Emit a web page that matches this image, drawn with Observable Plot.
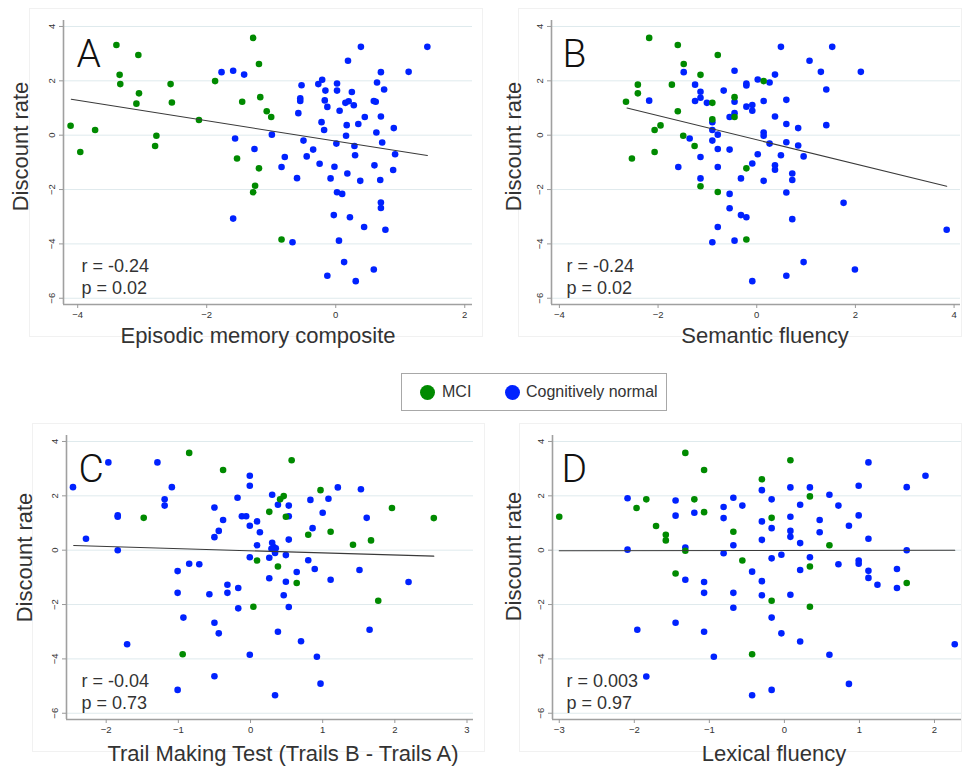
<!DOCTYPE html>
<html>
<head>
<meta charset="utf-8">
<script src="https://cdn.jsdelivr.net/npm/d3@7"></script>
<script src="https://cdn.jsdelivr.net/npm/@observablehq/plot@0.6"></script>
<style>
  html, body { margin: 0; padding: 0; background: #fff; }
  #root { position: relative; width: 962px; height: 766px; overflow: hidden; font-family: "Liberation Sans", Arial, sans-serif; color: #333; }
  .pbox { position: absolute; border: 1px solid #f1f1f1; box-sizing: border-box; }
  .panel { position: absolute; }
  #legend { position: absolute; left: 401px; top: 373px; width: 266px; height: 38px; border: 1px solid #a8a8a8; box-sizing: border-box; }
  #legend span { position: absolute; top: 9px; font-size: 16px; color: #333; white-space: nowrap; }
  #legend i { position: absolute; width: 15px; height: 15px; border-radius: 50%; top: 11px; }
</style>
</head>
<body>
<div id="root"></div>
<script>
// ---------- data ----------
const groups = ["MCI", "Cognitively normal"];
const groupColors = ["#008a00", "#0022ff"];
const yTicks = [-6, -4, -2, 0, 2, 4];
const yLabel = "Discount rate";

const panelLetters = ["A", "B", "C", "D"];
const xLabels = ["Episodic memory composite", "Semantic fluency", "Trail Making Test (Trails B - Trails A)", "Lexical fluency"];
const statsText = [["r = -0.24", "p = 0.02"], ["r = -0.24", "p = 0.02"], ["r = -0.04", "p = 0.73"], ["r = 0.003", "p = 0.97"]];

const xTicksA = [-4, -2, 0, 2];
const xTicksB = [-4, -2, 0, 2, 4];
const xTicksC = [-2, -1, 0, 1, 2, 3];
const xTicksD = [-3, -2, -1, 0, 1, 2];

const A_MCI = [[-3.40,3.32],[-3.06,2.95],[-3.35,2.22],[-3.34,1.88],[-3.05,1.54],[-3.09,1.16],[-2.56,1.88],[-2.54,1.20],[-2.12,0.56],[-1.87,1.99],[-4.11,0.35],[-3.96,-0.62],[-3.73,0.19],[-2.78,-0.02],[-2.80,-0.40],[-1.53,-0.86],[-1.28,3.58],[-1.19,2.62],[-1.45,1.23],[-1.17,1.40],[-1.07,0.88],[-1.00,0.67],[-1.19,-1.22],[-1.25,-1.86],[-1.28,-2.10],[-0.84,-3.84]];
const A_CN = [[-1.77,2.32],[-1.59,2.37],[-1.56,-0.12],[-1.59,-3.07],[-1.42,2.23],[-1.26,-0.51],[-0.99,0.02],[-0.79,-0.80],[-0.84,-1.17],[-0.67,-3.94],[-0.53,1.84],[-0.55,1.36],[-0.55,1.26],[-0.58,0.81],[-0.50,-0.20],[-0.60,-1.58],[-0.45,-0.78],[-0.35,-0.53],[-0.25,-1.05],[-0.27,1.88],[-0.21,2.04],[-0.16,1.64],[-0.17,1.28],[-0.13,1.04],[-0.22,0.48],[-0.18,0.19],[-0.08,-1.59],[-0.13,-5.17],[0.02,1.90],[0.02,1.64],[0.06,0.90],[0.01,-0.31],[-0.02,-1.16],[0.02,-2.10],[0.10,-2.16],[-0.03,-2.94],[0.05,-3.88],[0.13,-4.67],[0.31,-5.37],[0.19,2.74],[0.39,3.25],[0.25,1.59],[0.20,1.25],[0.15,1.19],[0.28,1.10],[0.17,0.37],[0.16,-0.02],[0.29,-0.40],[0.30,-0.74],[0.18,-1.41],[0.22,-3.02],[0.45,0.67],[0.35,0.41],[0.38,-1.68],[0.44,-3.38],[0.59,-4.94],[0.70,2.32],[0.64,1.94],[0.75,1.68],[0.59,1.26],[0.62,1.23],[0.70,0.69],[0.63,0.10],[0.72,-0.27],[0.60,-1.11],[0.69,-1.65],[0.70,-2.48],[0.70,-2.68],[0.77,-3.48],[0.90,0.26],[0.92,-0.70],[0.89,-1.28],[1.13,2.33],[1.42,3.25]];

const B_MCI = [[-2.18,3.58],[-1.60,3.32],[-1.48,2.62],[-1.14,2.22],[-2.41,1.86],[-2.41,1.54],[-1.72,1.86],[-2.65,1.23],[-1.60,0.88],[-0.90,1.19],[-1.95,0.36],[-2.07,0.19],[-1.49,-0.02],[-1.26,-0.40],[-2.07,-0.62],[-2.53,-0.86],[-1.14,-1.88],[-0.79,-2.09],[-0.79,2.95],[-0.90,0.58],[0.14,1.99],[-0.45,1.40],[-0.45,0.67],[-0.21,-1.22],[-0.21,-3.84]];
const B_CN = [[-1.48,2.32],[-1.25,1.86],[-1.14,1.60],[-1.14,1.38],[-1.25,1.26],[-1.01,1.19],[-2.18,1.27],[-0.90,0.48],[-0.90,0.19],[-0.79,0.02],[-1.36,-0.12],[-0.90,-0.20],[-0.79,-0.51],[-1.14,-0.80],[-1.59,-1.17],[-0.79,-1.17],[-1.14,-1.59],[-0.79,-3.38],[-0.90,-3.94],[0.49,3.25],[1.53,3.25],[1.07,2.74],[-0.45,2.37],[0.37,2.23],[1.30,2.33],[2.11,2.33],[0.02,2.05],[0.26,1.94],[-0.21,1.90],[-0.21,1.83],[-0.67,1.64],[1.41,1.68],[-0.45,1.23],[0.14,1.26],[0.60,1.30],[-0.09,1.11],[-0.21,1.05],[-0.09,0.90],[-0.45,0.81],[-0.55,0.67],[0.37,0.69],[0.60,0.41],[0.84,0.26],[1.41,0.37],[0.14,0.10],[0.14,-0.02],[0.26,-0.31],[0.60,-0.26],[0.84,-0.38],[-0.55,-0.53],[0.02,-0.70],[0.49,-0.74],[0.95,-0.78],[-0.09,-1.04],[0.37,-1.11],[0.37,-1.27],[-0.32,-1.59],[0.14,-1.68],[0.72,-1.41],[0.72,-1.65],[-0.55,-2.16],[0.60,-2.11],[1.76,-2.49],[-0.55,-2.69],[-0.32,-2.94],[-0.21,-3.02],[0.72,-3.09],[3.85,-3.48],[-0.45,-3.88],[0.95,-4.67],[1.99,-4.94],[0.60,-5.17],[-0.09,-5.37]];

const C_MCI = [[-0.85,3.58],[-0.38,2.95],[-1.48,1.19],[-0.94,-3.83],[0.57,3.31],[0.46,1.99],[0.41,1.87],[0.26,1.41],[0.49,1.23],[0.97,2.21],[1.96,1.55],[2.54,1.18],[0.80,0.57],[1.11,0.68],[1.42,0.20],[1.67,0.36],[0.09,-0.38],[0.38,-0.60],[0.64,-1.21],[0.04,-2.08],[1.77,-1.86]];
const C_CN = [[-2.46,2.32],[-1.97,3.23],[-1.29,3.23],[-1.09,2.32],[-1.19,1.87],[-1.19,1.64],[-1.84,1.28],[-1.84,1.23],[-2.28,0.42],[-1.84,0.00],[-1.71,-3.46],[-0.50,1.57],[-0.38,1.11],[-0.44,0.71],[-0.50,0.48],[-0.18,1.93],[-0.12,1.25],[-0.06,1.25],[-0.85,-0.50],[-0.71,-0.52],[-1.01,-0.77],[-1.01,-1.57],[-0.57,-1.62],[-0.32,-1.27],[-0.32,-1.57],[-0.17,-1.39],[-0.17,-2.14],[-0.93,-2.48],[-0.50,-2.67],[-0.44,-3.06],[-0.50,-4.64],[-1.01,-5.14],[-0.01,2.74],[-0.01,2.37],[-0.01,0.90],[0.09,1.06],[0.13,0.66],[0.09,0.18],[-0.01,-0.26],[0.30,2.04],[0.38,1.67],[0.53,1.64],[0.53,1.25],[0.53,0.39],[0.30,0.27],[0.32,0.12],[0.35,0.07],[0.29,0.05],[0.34,-0.10],[0.26,-0.28],[0.49,-0.18],[0.26,-1.03],[0.49,-1.16],[0.64,-0.80],[0.46,-1.66],[0.53,-2.09],[0.38,-3.00],[0.70,-3.35],[-0.01,-3.85],[0.34,-5.34],[0.92,-3.92],[0.97,-4.91],[0.83,1.85],[0.86,0.81],[1.00,1.38],[1.08,1.89],[1.21,2.31],[0.80,-0.37],[0.89,-0.69],[1.11,-1.09],[1.53,2.24],[1.61,1.19],[1.51,-0.73],[1.65,-2.93],[2.19,-1.17]];

const D_MCI = [[-3.00,1.23],[-1.32,3.58],[-1.07,2.95],[-1.97,1.55],[-1.84,1.87],[-1.20,1.87],[-1.07,1.40],[-1.71,0.89],[-1.58,0.57],[-1.58,0.36],[-1.32,-0.02],[-1.45,-0.86],[0.08,3.31],[-0.30,2.61],[0.34,1.98],[-0.17,1.19],[-0.68,0.68],[0.60,0.18],[-0.56,-0.38],[0.34,-0.60],[1.63,-1.21],[-0.17,-1.86],[0.34,-2.08],[-0.43,-3.83]];
const D_CN = [[-2.09,1.91],[-1.45,1.83],[-1.45,1.27],[-1.20,1.38],[-2.09,0.02],[-1.32,0.10],[-1.32,-1.09],[-1.07,-1.17],[-1.07,-1.57],[-1.96,-2.93],[-1.45,-2.67],[-1.07,-3.00],[-0.94,-3.92],[-1.84,-4.65],[1.12,3.23],[1.88,2.74],[-0.30,2.21],[0.08,2.31],[0.34,2.31],[0.99,2.37],[1.63,2.32],[-0.68,1.93],[-0.17,1.87],[0.60,2.04],[-0.81,1.59],[-0.56,1.64],[0.21,1.67],[0.72,1.64],[-0.81,1.18],[-0.30,1.06],[0.08,1.23],[0.47,1.11],[0.99,1.28],[0.86,0.90],[-0.17,0.81],[0.08,0.71],[0.08,0.49],[0.47,0.66],[-0.30,0.38],[0.21,0.26],[1.12,0.42],[-0.68,0.18],[-0.81,-0.11],[-0.04,-0.17],[-0.17,-0.30],[0.34,-0.26],[1.63,0.00],[0.72,-0.52],[0.99,-0.38],[0.99,-0.50],[1.12,-0.76],[1.12,-1.02],[1.24,-1.27],[1.50,-0.69],[1.50,-1.39],[-0.43,-0.79],[-0.30,-1.14],[0.21,-0.73],[-0.68,-1.57],[-0.30,-1.66],[0.08,-1.64],[-0.68,-2.12],[-0.17,-2.48],[-0.04,-3.06],[0.21,-3.36],[0.60,-3.85],[2.27,-3.46],[0.86,-4.92],[-0.43,-5.34],[-0.17,-5.14]];

// fitted regression line endpoints
const fitA = [[-4.10, 1.32], [1.42, -0.75]];
const fitB = [[-2.63, 1.00], [3.85, -1.88]];
const fitC = [[-2.45, 0.17], [2.54, -0.22]];
const fitD = [[-3.00, -0.02], [2.27, 0.00]];

// ---------- layout ----------
const layout = [
  {left: 0,   top: 0,   ml: 63, mr: 9, xDomain: [-4.22, 2.12], xTicks: xTicksA, mci: A_MCI, cn: A_CN, fit: fitA, letterDx: 13, statDx: 18, ylDx: -43, ylDy: -16, xlDx: -10, xlDy: 38},
  {left: 481, top: 0,   ml: 70, mr: 2, xDomain: [-4.16, 4.13], xTicks: xTicksB, mci: B_MCI, cn: B_CN, fit: fitB, letterDx: 11, statDx: 15, ylDx: -38, ylDy: -16, xlDx: 9, xlDy: 38},
  {left: 0,   top: 415, ml: 66, mr: 8, xDomain: [-2.55, 3.09], xTicks: xTicksC, mci: C_MCI, cn: C_CN, fit: fitC, letterDx: 12, statDx: 15, ylDx: -42, ylDy: -20, xlDx: 13, xlDy: 41},
  {left: 481, top: 415, ml: 71, mr: 1, xDomain: [-3.09, 2.36], xTicks: xTicksD, mci: D_MCI, cn: D_CN, fit: fitD, letterDx: 9, statDx: 14, ylDx: -39, ylDy: -21, xlDx: 17, xlDy: 41}
];
const boxes = [[29, 8, 454, 329], [518, 8, 444, 329], [32, 423, 453, 329], [519, 423, 443, 329]];
const yDomain = [-6.23, 4.22];
const root = document.getElementById("root");

boxes.forEach(([l, t, w, h]) => {
  const b = document.createElement("div");
  b.className = "pbox";
  Object.assign(b.style, {left: l + "px", top: t + "px", width: w + "px", height: h + "px"});
  root.appendChild(b);
});

layout.forEach((p, i) => {
  const chart = Plot.plot({
    width: 481, height: 350,
    marginLeft: p.ml, marginRight: p.mr, marginTop: 20, marginBottom: 46,
    style: {fontFamily: "'Liberation Sans', Arial, sans-serif", color: "#333", background: "transparent", overflow: "visible"},
    x: {domain: p.xDomain},
    y: {domain: yDomain},
    marks: [
      Plot.gridY(yTicks, {stroke: "#dfeaed", strokeOpacity: 1, strokeWidth: 1}),
      Plot.ruleY([yDomain[0]], {stroke: "#a0a0a0", strokeWidth: 1.6}),
      Plot.ruleX([p.xDomain[0]], {stroke: "#a0a0a0", strokeWidth: 1.6}),
      Plot.axisX(p.xTicks, {tickSize: 4, tickPadding: 3, fontSize: 9.5, stroke: "#999", fill: "#333", label: null}),
      Plot.axisY(yTicks, {tickRotate: -90, tickSize: 4, tickPadding: 5, fontSize: 9.5, stroke: "#999", fill: "#333", label: null}),
      Plot.dot(p.cn, {x: d => d[0], y: d => d[1], r: 3.3, fill: groupColors[1], stroke: null}),
      Plot.dot(p.mci, {x: d => d[0], y: d => d[1], r: 3.3, fill: groupColors[0], stroke: null}),
      Plot.line(p.fit, {x: d => d[0], y: d => d[1], stroke: "#3a3a3a", strokeWidth: 1.1}),
      Plot.text([panelLetters[i]], {text: d => d, frameAnchor: "top-left", textAnchor: "start", lineAnchor: "bottom", dx: p.letterDx, dy: 46, fontSize: 39, fontWeight: 300, fontFamily: "Roboto, 'Liberation Sans', sans-serif", fill: "#111"}),
      Plot.text([statsText[i].join("\n")], {text: d => d, frameAnchor: "bottom-left", textAnchor: "start", lineAnchor: "bottom", lineHeight: 1.17, dx: p.statDx, dy: -11, fontSize: 18, fill: "#333"}),
      Plot.text([yLabel], {text: d => d, frameAnchor: "left", rotate: -90, textAnchor: "middle", lineAnchor: "middle", dx: p.ylDx, dy: p.ylDy, fontSize: 22, fill: "#333"}),
      Plot.text([xLabels[i]], {text: d => d, frameAnchor: "bottom", textAnchor: "middle", lineAnchor: "bottom", dx: p.xlDx, dy: p.xlDy, fontSize: 22, fill: "#333"})
    ]
  });
  chart.classList.add("panel");
  chart.style.position = "absolute";
  chart.style.left = p.left + "px";
  chart.style.top = p.top + "px";
  root.appendChild(chart);
});

// legend
const legend = document.createElement("div");
legend.id = "legend";
const legendItems = [{dot: 18, text: 40}, {dot: 103, text: 124}];
groups.forEach((g, i) => {
  const dot = document.createElement("i");
  dot.style.left = legendItems[i].dot + "px";
  dot.style.background = groupColors[i];
  const label = document.createElement("span");
  label.style.left = legendItems[i].text + "px";
  label.textContent = g;
  legend.appendChild(dot);
  legend.appendChild(label);
});
root.appendChild(legend);
</script>
</body>
</html>
